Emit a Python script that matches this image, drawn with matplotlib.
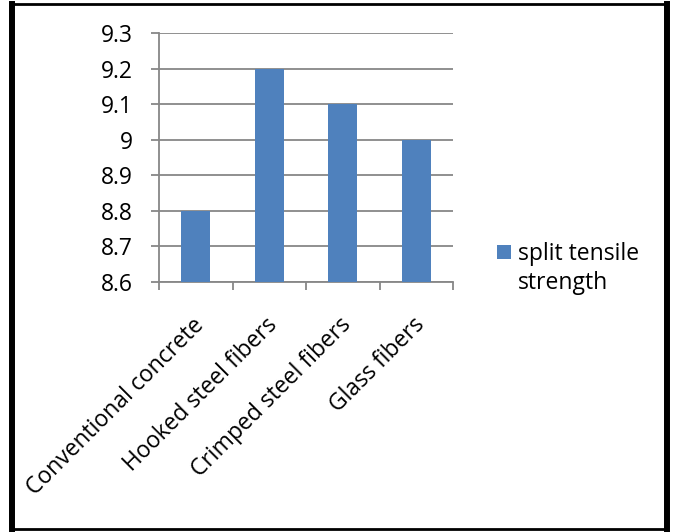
import matplotlib
matplotlib.use("Agg")
import matplotlib.pyplot as plt
from matplotlib.lines import Line2D
from matplotlib.patches import Rectangle
from matplotlib.ticker import FixedLocator
from matplotlib.transforms import ScaledTranslation

categories = ["Conventional concrete", "Hooked steel fibers",
              "Crimped steel fibers", "Glass fibers"]
split_tensile_strength = [8.8, 9.2, 9.1, 9.0]
series_name = "split tensile\nstrength"
y_ticks = [8.6, 8.7, 8.8, 8.9, 9.0, 9.1, 9.2, 9.3]
y_tick_labels = ["8.6", "8.7", "8.8", "8.9", "9", "9.1", "9.2", "9.3"]

BAR = "#4F81BD"
GRID = "#878787"
FONT = "Open Sans"
FS = 16.5

W, H = 674, 532
fig = plt.figure(figsize=(W / 100, H / 100), dpi=100)
fig.patch.set_facecolor("white")

ax = fig.add_axes([159 / W, 1 - 282 / H, (453 - 159) / W, (282 - 33) / H])
x = list(range(len(categories)))
ax.bar(x, split_tensile_strength, width=0.4, color=BAR, zorder=3)

ax.set_xlim(-0.5, len(categories) - 0.5)
ax.set_ylim(8.6, 9.3)
ax.set_yticks(y_ticks)
ax.set_yticklabels(y_tick_labels, fontsize=FS, fontfamily=FONT)
ax.yaxis.grid(True, color=GRID, linewidth=1.3, zorder=0)
ax.tick_params(axis="y", length=6, width=1.3, color=GRID, pad=13)

ax.set_xticks(x)
ax.set_xticklabels(categories, rotation=45, ha="right", va="top",
                   rotation_mode="anchor", fontsize=FS, fontfamily=FONT)
ax.tick_params(axis="x", which="major", length=0, pad=22.5)
shift = ScaledTranslation(-4 / 100, 0, fig.dpi_scale_trans)
for lab in ax.get_xticklabels():
    lab.set_transform(lab.get_transform() + shift)
ax.xaxis.set_minor_locator(FixedLocator([i - 0.5 for i in range(len(categories) + 1)]))
ax.tick_params(axis="x", which="minor", length=6, width=1.3, color=GRID)

for side in ("top", "right"):
    ax.spines[side].set_visible(False)
for side in ("left", "bottom"):
    ax.spines[side].set_color(GRID)
    ax.spines[side].set_linewidth(1.3)

# legend: swatch beside the first line of the series name
fig.patches.append(Rectangle((497 / W, 1 - 259 / H), 14 / W, 14 / H,
                             transform=fig.transFigure, facecolor=BAR,
                             edgecolor="none"))
fig.text(518 / W, 1 - 289 / H, series_name, fontsize=FS, fontfamily=FONT,
         ha="left", va="baseline", linespacing=1.25,
         transform=fig.transFigure)

# outer chart frame
def frame_line(xs, ys, lw):
    fig.lines.append(Line2D([v / W for v in xs], [1 - v / H for v in ys],
                            transform=fig.transFigure, color="black",
                            linewidth=lw, solid_capstyle="projecting"))

frame_line([12, 667], [4, 4], 2.0)
frame_line([12, 12], [4, 529], 4.3)
frame_line([667, 667], [4, 529], 4.3)
frame_line([12, 667], [529, 529], 2.0)

fig.savefig("out.png", dpi=100)
